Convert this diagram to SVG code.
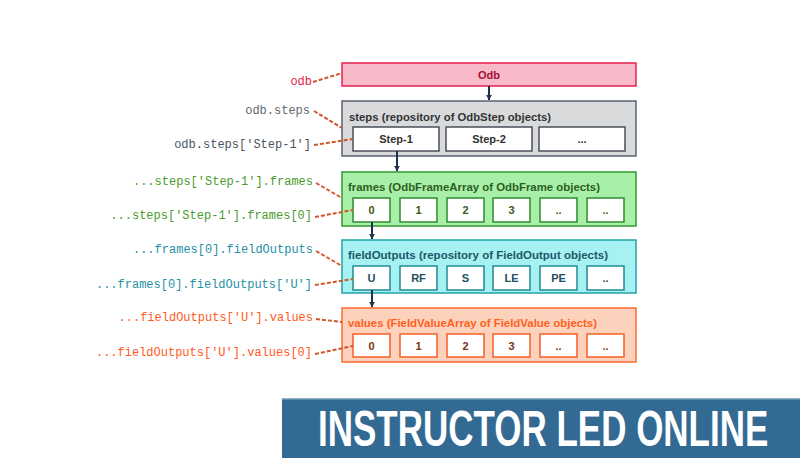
<svg xmlns="http://www.w3.org/2000/svg" width="800" height="458" viewBox="0 0 800 458">
<style>
.lbl{font-family:"Liberation Mono",monospace;font-size:12px;text-anchor:end;dominant-baseline:central}
.ttl{font-family:"Liberation Sans",Arial,sans-serif;font-size:11px;font-weight:bold;dominant-baseline:central}
.cell{font-family:"Liberation Sans",Arial,sans-serif;font-size:11px;font-weight:bold;text-anchor:middle;dominant-baseline:central}
.sub{fill:#ffffff;stroke-width:1.5}
.dash{fill:none;stroke:#d0562a;stroke-width:2;stroke-dasharray:4,2}
.arr{stroke:#1f2f4f;stroke-width:2;fill:none;marker-end:url(#ah)}
</style>
<defs>
<marker id="ah" viewBox="0 0 10 10" refX="9" refY="5" markerWidth="6" markerHeight="6" orient="auto" markerUnits="userSpaceOnUse">
<path d="M0,0 L10,5 L0,10 z" fill="#1f2f4f"/>
</marker>
</defs>
<rect width="800" height="458" fill="#ffffff"/>

<g id="odb">
<rect x="342" y="63" width="294" height="23" fill="#f8b9c9" stroke="#e3234f" stroke-width="1.5"/>
<text class="cell" x="489" y="74.5" fill="#a0102e" font-size="12">Odb</text>
</g>

<g id="steps">
<rect x="342" y="101" width="294" height="55" fill="#d9dadc" stroke="#5b6370" stroke-width="1.5"/>
<text class="ttl" x="349" y="117" fill="#333333" textLength="202" lengthAdjust="spacingAndGlyphs">steps (repository of OdbStep objects)</text>
<rect class="sub" x="353" y="127" width="86" height="24" stroke="#4a4f58"/>
<text class="cell" x="396" y="139" fill="#303030">Step-1</text>
<rect class="sub" x="446" y="127" width="86" height="24" stroke="#4a4f58"/>
<text class="cell" x="489" y="139" fill="#303030">Step-2</text>
<rect class="sub" x="539" y="127" width="86" height="24" stroke="#4a4f58"/>
<text class="cell" x="582" y="139" fill="#303030">...</text>
</g>

<g id="frames">
<rect x="342" y="172" width="294" height="54" fill="#a8f0a8" stroke="#2e9a2e" stroke-width="1.5"/>
<text class="ttl" x="348" y="187" fill="#2c5e22" textLength="252" lengthAdjust="spacingAndGlyphs">frames (OdbFrameArray of OdbFrame objects)</text>
<g stroke="#2e8a2e">
<rect class="sub" x="353" y="198" width="37" height="24"/>
<rect class="sub" x="400" y="198" width="37" height="24"/>
<rect class="sub" x="447" y="198" width="37" height="24"/>
<rect class="sub" x="493" y="198" width="37" height="24"/>
<rect class="sub" x="540" y="198" width="37" height="24"/>
<rect class="sub" x="587" y="198" width="37" height="24"/>
</g>
<g fill="#3a5a12">
<text class="cell" x="371.5" y="210">0</text>
<text class="cell" x="418.5" y="210">1</text>
<text class="cell" x="465.5" y="210">2</text>
<text class="cell" x="511.5" y="210">3</text>
<text class="cell" x="558.5" y="210">..</text>
<text class="cell" x="605.5" y="210">..</text>
</g>
</g>

<g id="fieldOutputs">
<rect x="342" y="240" width="294" height="53" fill="#a6f2f2" stroke="#22a2a8" stroke-width="1.5"/>
<text class="ttl" x="348" y="255" fill="#1d5866" textLength="260" lengthAdjust="spacingAndGlyphs">fieldOutputs (repository of FieldOutput objects)</text>
<g stroke="#1f8a96">
<rect class="sub" x="353" y="266" width="37" height="24"/>
<rect class="sub" x="400" y="266" width="37" height="24"/>
<rect class="sub" x="447" y="266" width="37" height="24"/>
<rect class="sub" x="493" y="266" width="37" height="24"/>
<rect class="sub" x="540" y="266" width="37" height="24"/>
<rect class="sub" x="587" y="266" width="37" height="24"/>
</g>
<g fill="#1d5060">
<text class="cell" x="371.5" y="278">U</text>
<text class="cell" x="418.5" y="278">RF</text>
<text class="cell" x="465.5" y="278">S</text>
<text class="cell" x="511.5" y="278">LE</text>
<text class="cell" x="558.5" y="278">PE</text>
<text class="cell" x="605.5" y="278">..</text>
</g>
</g>

<g id="values">
<rect x="342" y="308" width="294" height="54" fill="#fdd2bc" stroke="#ff6a2c" stroke-width="1.5"/>
<text class="ttl" x="348" y="323" fill="#ff5f1f" textLength="249" lengthAdjust="spacingAndGlyphs">values (FieldValueArray of FieldValue objects)</text>
<g stroke="#f26024">
<rect class="sub" x="353" y="334" width="37" height="23"/>
<rect class="sub" x="400" y="334" width="37" height="23"/>
<rect class="sub" x="447" y="334" width="37" height="23"/>
<rect class="sub" x="493" y="334" width="37" height="23"/>
<rect class="sub" x="540" y="334" width="37" height="23"/>
<rect class="sub" x="587" y="334" width="37" height="23"/>
</g>
<g fill="#7a3410">
<text class="cell" x="371.5" y="345.5">0</text>
<text class="cell" x="418.5" y="345.5">1</text>
<text class="cell" x="465.5" y="345.5">2</text>
<text class="cell" x="511.5" y="345.5">3</text>
<text class="cell" x="558.5" y="345.5">..</text>
<text class="cell" x="605.5" y="345.5">..</text>
</g>
</g>

<g id="labels">
<text class="lbl" x="312" y="82" fill="#e0204a">odb</text>
<text class="lbl" x="310" y="111" fill="#606870">odb.steps</text>
<text class="lbl" x="311" y="145" fill="#4c5460">odb.steps['Step-1']</text>
<text class="lbl" x="313" y="182" fill="#4a9a2c">...steps['Step-1'].frames</text>
<text class="lbl" x="312" y="216" fill="#4a9a2c">...steps['Step-1'].frames[0]</text>
<text class="lbl" x="313" y="250" fill="#2590a4">...frames[0].fieldOutputs</text>
<text class="lbl" x="312" y="285" fill="#2590a4">...frames[0].fieldOutputs['U']</text>
<text class="lbl" x="313" y="318" fill="#ff5a1c">...fieldOutputs['U'].values</text>
<text class="lbl" x="312" y="353" fill="#ff5a1c">...fieldOutputs['U'].values[0]</text>
</g>

<g id="connectors">
<path class="dash" d="M313,82 L342,73"/>
<path class="dash" d="M314,111 L342,128"/>
<path class="dash" d="M314,145 L353,139"/>
<path class="dash" d="M316,183 L342,198"/>
<path class="dash" d="M315,217 L353,210"/>
<path class="dash" d="M316,251 L342,266"/>
<path class="dash" d="M315,285 L353,279"/>
<path class="dash" d="M316,319 L342,322"/>
<path class="dash" d="M315,354 L353,346"/>
<path class="arr" d="M489,86 L489,100"/>
<path class="arr" d="M397,151 L397,171"/>
<path class="arr" d="M372,222 L372,239"/>
<path class="arr" d="M372,290 L372,307"/>
</g>

<g id="banner">
<rect x="282" y="398" width="518" height="60" fill="#336a93"/>
<rect x="282" y="398" width="518" height="1.5" fill="#8fb0c8"/>
<text transform="translate(318,446) scale(0.70,1)" x="0" y="0" fill="#ffffff" font-family="'Liberation Sans',Arial,sans-serif" font-weight="bold" font-size="50">INSTRUCTOR LED ONLINE</text>
</g>
</svg>
